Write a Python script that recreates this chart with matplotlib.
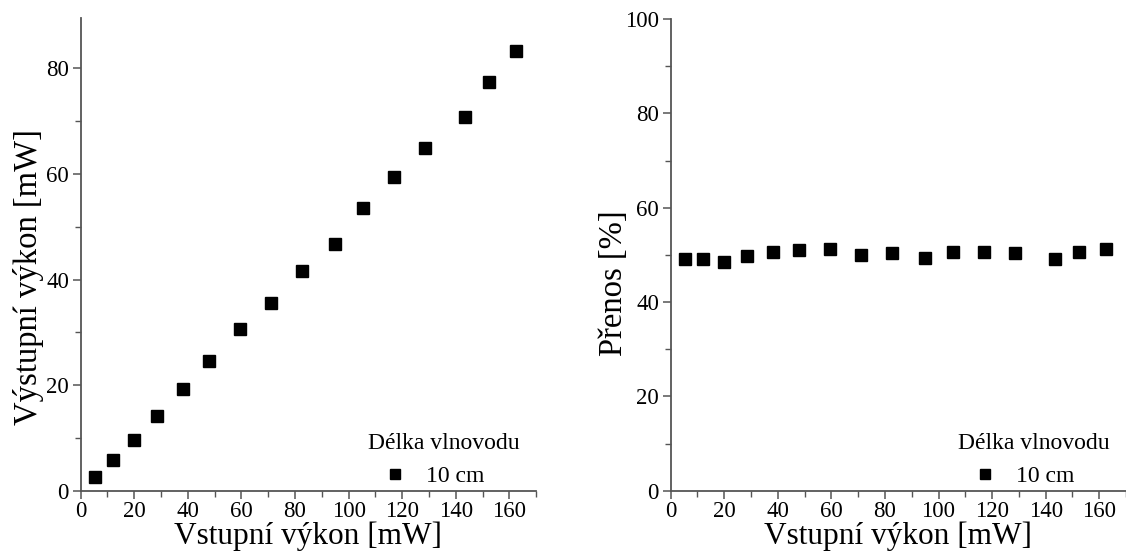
import numpy as np
import matplotlib
matplotlib.use('Agg')
import matplotlib.pyplot as plt
from matplotlib.ticker import MultipleLocator

vstup = [5.3, 12.0, 19.8, 28.5, 38.1, 48.0, 59.5, 71.0, 82.5, 94.8,
         105.3, 117.0, 128.5, 143.6, 152.4, 162.4]
vystup = [2.6, 5.9, 9.6, 14.1, 19.3, 24.5, 30.6, 35.6, 41.7, 46.8,
          53.5, 59.4, 65.0, 70.7, 77.4, 83.2]
prenos = [49.2, 49.1, 48.5, 49.7, 50.5, 51.1, 51.2, 50.0, 50.4, 49.3,
          50.6, 50.7, 50.4, 49.1, 50.7, 51.2]

legend_title = 'Délka vlnovodu'
series_label = '10 cm'

plt.rcParams['font.family'] = ['Liberation Serif', 'DejaVu Serif']

W, H = 1126, 555
fig = plt.figure(figsize=(W / 100, H / 100), dpi=100)

spine_col = '#555555'


def style_axes(ax, xmax, ymax):
    ax.set_xlim(0, xmax)
    ax.set_ylim(0, ymax)
    ax.xaxis.set_major_locator(MultipleLocator(20))
    ax.xaxis.set_minor_locator(MultipleLocator(10))
    ax.yaxis.set_major_locator(MultipleLocator(20))
    ax.yaxis.set_minor_locator(MultipleLocator(10))
    for s in ['top', 'right']:
        ax.spines[s].set_visible(False)
    for s in ['left', 'bottom']:
        ax.spines[s].set_color(spine_col)
        ax.spines[s].set_linewidth(1.3)
    ax.tick_params(which='major', direction='out', length=6, width=1.1,
                   color=spine_col, labelsize=16.5, pad=2.5)
    ax.tick_params(axis='x', which='major', pad=1.5)
    ax.tick_params(which='minor', direction='out', length=4, width=1.0,
                   color=spine_col)
    ax.set_xlabel('Vstupní výkon [mW]', fontsize=22.5)
    ax.xaxis.set_label_coords(0.5, -0.065)


def add_legend(ax, h):
    leg = ax.legend(handles=[h], labels=[series_label], title=legend_title,
                    loc='lower right', bbox_to_anchor=(1.0, -0.028),
                    frameon=False, fontsize=17, title_fontsize=17,
                    handlelength=2.3, handletextpad=0.17, markerscale=0.85,
                    borderpad=0.2, alignment='left')
    return leg


# left panel: output vs input power
ax1 = fig.add_axes([80.7 / W, (H - 490.7) / H, 455.4 / W, 473 / H])
h1, = ax1.plot(vstup, vystup, 's', color='black', markersize=8.5, linestyle='none')
style_axes(ax1, 170, 89.6)
ax1.set_ylabel('Výstupní výkon [mW]', fontsize=23.5)
ax1.yaxis.set_label_coords(-0.081, 0.452)
add_legend(ax1, h1)

# right panel: transmission
ax2 = fig.add_axes([670.7 / W, (H - 490.7) / H, 455.3 / W, 471.7 / H])
h2, = ax2.plot(vstup, prenos, 's', color='black', markersize=8.5, linestyle='none')
style_axes(ax2, 170, 100)
ax2.set_ylabel('Přenos [%]', fontsize=23.5)
ax2.yaxis.set_label_coords(-0.0916, 0.44)
add_legend(ax2, h2)

fig.savefig('out.png', dpi=100)
